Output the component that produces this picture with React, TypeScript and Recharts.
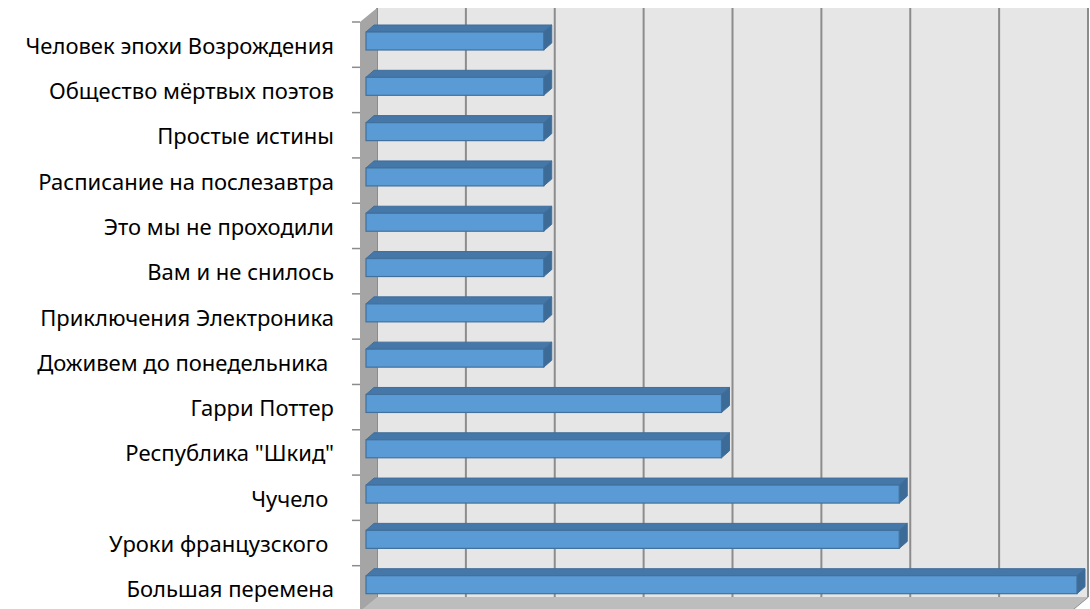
import React from 'react';
import { BarChart, Bar, XAxis, YAxis, CartesianGrid } from 'recharts';

// films, top to bottom as in the original chart
const films = [
    'Человек эпохи Возрождения',
    'Общество мёртвых поэтов',
    'Простые истины',
    'Расписание на послезавтра',
    'Это мы не проходили',
    'Вам и не снилось',
    'Приключения Электроника',
    'Доживем до понедельника\u00a0',
    'Гарри Поттер',
    'Республика "Шкид"',
    'Чучело\u00a0',
    'Уроки французского\u00a0',
    'Большая перемена',
];

const votes = [2, 2, 2, 2, 2, 2, 2, 2, 4, 4, 6, 6, 8];

const axisTicks = [0, 1, 2, 3, 4, 5, 6, 7, 8];

const data = films.map((name, i) => ({ name, value: votes[i] }));

const W = 1090;
const H = 609;
const TOP = 8;
const BOTTOM = 12;
const AXIS_W = 377;
const RIGHT = 2;
// 3d depth of the whole box, and of a single bar
const DX = 17;
const DY = 14;
const BAR_DX = 8;
const BAR_DY = 7;

const plotLeft = AXIS_W;
const plotRight = W - RIGHT;
const plotTop = TOP;
const plotBottom = H - BOTTOM;

const Walls = () => {
    const band = (plotBottom - plotTop) / films.length;
    return (
        <g>
            <polygon
                points={`${plotLeft},${plotTop} ${plotLeft - DX},${plotTop + DY} ${plotLeft - DX},${plotBottom + DY} ${plotLeft},${plotBottom}`}
                fill="#a5a5a5"
            />
            <polygon
                points={`${plotLeft},${plotBottom} ${plotRight},${plotBottom} ${plotRight - DX},${plotBottom + DY} ${plotLeft - DX},${plotBottom + DY}`}
                fill="#bdbdbd"
            />
            {films.map((_, i) => (
                <line
                    key={i}
                    x1={plotLeft - DX - 8}
                    x2={plotLeft - DX}
                    y1={plotTop + DY + i * band}
                    y2={plotTop + DY + i * band}
                    stroke="#8c8c8c"
                    strokeWidth={1.5}
                />
            ))}
        </g>
    );
};

const GridLine = (props: any) => {
    const { x1, y1, y2 } = props;
    return (
        <g key={props.key}>
            <line x1={x1} x2={x1} y1={y1} y2={y2} stroke="#8c8c8c" strokeWidth={2} />
            <line x1={x1} x2={x1 - DX} y1={y2} y2={y2 + DY} stroke="#8c8c8c" strokeWidth={1.5} />
        </g>
    );
};

const NoTick = () => <g />;

const Bar3D = (props: any) => {
    const { x, y, width, height } = props;
    if (!width) return null;
    const fx = x - 11;
    const fy = y + 10;
    const top = `${fx},${fy} ${fx + BAR_DX},${fy - BAR_DY} ${fx + width + BAR_DX},${fy - BAR_DY} ${fx + width},${fy}`;
    const side = `${fx + width},${fy} ${fx + width + BAR_DX},${fy - BAR_DY} ${fx + width + BAR_DX},${fy + height - BAR_DY} ${fx + width},${fy + height}`;
    return (
        <g>
            <polygon points={top} fill="#4577a8" stroke="#3f6e9c" strokeWidth={1} />
            <polygon points={side} fill="#3c6b98" stroke="#3f6e9c" strokeWidth={1} />
            <rect x={fx} y={fy} width={width} height={height} fill="#5b9bd5" stroke="#41719c" strokeWidth={1.2} />
        </g>
    );
};

const FilmTick = (props: any) => {
    const { y, payload } = props;
    return (
        <text
            x={334}
            y={y + DY}
            textAnchor="end"
            dominantBaseline="central"
            fontFamily="'Noto Sans', sans-serif"
            fontSize={22}
            fill="#000"
            style={{ whiteSpace: 'pre' }}
        >
            {payload.value}
        </text>
    );
};

const App = () => (
    <div style={{ position: 'absolute', left: 0, top: 0, width: W, height: H, background: '#fff' }}>
        <BarChart
            width={W}
            height={H}
            data={data}
            layout="vertical"
            margin={{ top: TOP, right: RIGHT, bottom: BOTTOM, left: 0 }}
        >
            <Walls />
            <CartesianGrid horizontal={false} vertical={GridLine} fill="#e6e6e6" stroke="#8c8c8c" />
            <XAxis
                type="number"
                domain={[0, 8]}
                ticks={axisTicks}
                tick={NoTick}
                axisLine={false}
                tickLine={false}
                height={0}
            />
            <YAxis
                type="category"
                dataKey="name"
                width={AXIS_W}
                axisLine={false}
                tickLine={false}
                tick={<FilmTick />}
                interval={0}
            />
            <Bar dataKey="value" barSize={18} shape={<Bar3D />} isAnimationActive={false} />
        </BarChart>
    </div>
);

export default App;
